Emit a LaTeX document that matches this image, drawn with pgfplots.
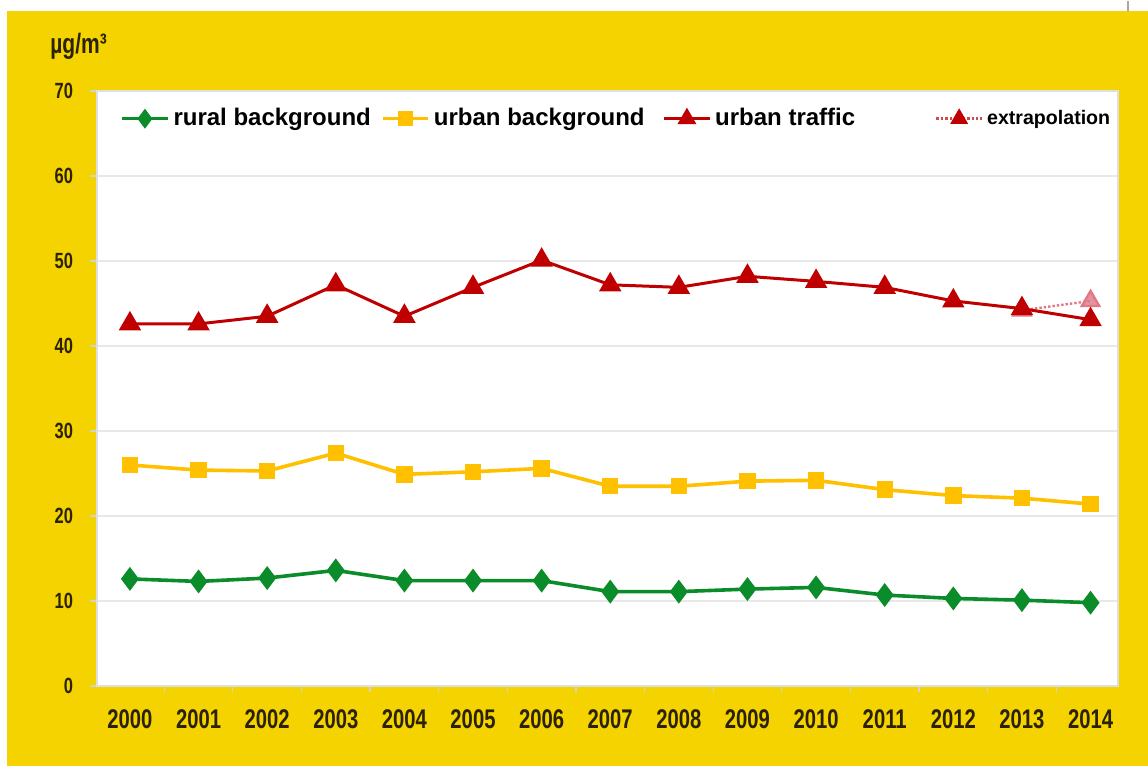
\documentclass[border=0pt]{standalone}
\usepackage{fontspec}
\setmainfont{Liberation Sans}
\newfontfamily\narrowfont[FakeStretch=0.75]{Liberation Sans}
\usepackage{pgfplots}
\pgfplotsset{compat=1.18}
\definecolor{bgyellow}{HTML}{F5D300}
\definecolor{rural}{HTML}{0A8C2A}
\definecolor{urbanbg}{HTML}{FFC000}
\definecolor{traffic}{HTML}{C00000}
\definecolor{extra}{HTML}{E07888}
\definecolor{gridgray}{HTML}{E8E8E8}
\definecolor{ticktext}{HTML}{2A2200}
\newcommand{\gap}[1]{\rule{#1}{0pt}}
\begin{document}
\begin{tikzpicture}[x=1pt,y=1pt]
\fill[white] (0,0) rectangle (574,382.5);
\fill[bgyellow] (3.5,0) rectangle (574,377.5);
\draw[gray!70, line width=1pt] (564,377.5) -- (564,382.5);
\node[anchor=west, inner sep=0pt, text=ticktext, font=\narrowfont\bfseries\fontsize{14}{15}\selectfont] at (25,360) {µg/m³};
\begin{axis}[
  at={(48.5pt,40pt)}, anchor=south west,
  scale only axis, width=510.5pt, height=297.5pt,
  xmin=-0.48, xmax=14.4, ymin=0, ymax=70,
  axis background/.style={fill=white},
  axis line style={draw=gray!25, line width=0.6pt},
  xtick={0,...,14},
  xticklabels={2000,2001,2002,2003,2004,2005,2006,2007,2008,2009,2010,2011,2012,2013,2014},
  ytick={0,10,...,70},
  minor x tick num=1,
  every major x tick/.style={draw=none},
  tick style={draw=gray!35, line width=0.6pt},
  major tick length=3.5pt, minor tick length=3pt,
  tick align=outside,
  xtick pos=bottom, ytick pos=left,
  ymajorgrids, grid style={draw=gridgray, line width=0.8pt},
  /pgf/number format/assume math mode=true,
  x tick label style={font=\narrowfont\bfseries\fontsize{13.5}{14}\selectfont, text=ticktext, yshift=-5pt},
  y tick label style={font=\narrowfont\bfseries\fontsize{11}{12}\selectfont, text=ticktext, xshift=-5pt},
  legend style={at={(0.0225,0.978)}, anchor=north west, draw=none, fill=none,
    inner sep=0pt, font=\bfseries\fontsize{12}{14}\selectfont,
    /tikz/every even column/.append style={column sep=0pt}},
  legend columns=4,
  legend image code/.code={\draw[mark repeat=2,mark phase=2] plot coordinates {(0cm,0cm) (0.4cm,0cm) (0.8cm,0cm)};},
]
% extrapolation (drawn first, under the measured series)
\addplot[forget plot, extra, line width=1.2pt, densely dotted, mark=triangle*, mark size=5pt,
  mark options={solid, fill=extra, draw=extra, fill opacity=0.8}] coordinates {(13,44.2) (14,45.3)};
% rural background
\addplot[forget plot, rural, line width=1.8pt, mark=diamond*, mark size=4.5pt, mark options={solid, fill=rural}] coordinates {
(0,12.6) (1,12.3) (2,12.7) (3,13.6) (4,12.4) (5,12.4) (6,12.4) (7,11.1) (8,11.1) (9,11.4) (10,11.6) (11,10.7) (12,10.3) (13,10.1) (14,9.8)};
% urban background
\addplot[forget plot, urbanbg, line width=1.8pt, mark=square*, mark size=3.2pt, mark options={solid, fill=urbanbg}] coordinates {
(0,26.0) (1,25.4) (2,25.3) (3,27.4) (4,24.9) (5,25.2) (6,25.6) (7,23.5) (8,23.5) (9,24.1) (10,24.2) (11,23.1) (12,22.4) (13,22.1) (14,21.4)};
% urban traffic
\addplot[forget plot, traffic, line width=1.5pt, mark=triangle*, mark size=5pt, mark options={solid, fill=traffic}] coordinates {
(0,42.6) (1,42.6) (2,43.5) (3,47.2) (4,43.5) (5,46.9) (6,50.1) (7,47.2) (8,46.9) (9,48.2) (10,47.6) (11,46.9) (12,45.3) (13,44.4) (14,43.1)};
\addlegendimage{rural, line width=1.8pt, mark=diamond*, mark size=3.5pt, mark options={solid, fill=rural}}
\addlegendentry{rural background\gap{3pt}}
\addlegendimage{urbanbg, line width=1.8pt, mark=square*, mark size=2.8pt, mark options={solid, fill=urbanbg}}
\addlegendentry{urban background\gap{7pt}}
\addlegendimage{traffic, line width=1.5pt, mark=triangle*, mark size=4pt, mark options={solid, fill=traffic}}
\addlegendentry{urban traffic\gap{38pt}}
\addlegendimage{traffic!70, line width=1.2pt, densely dotted, mark=triangle*, mark size=4pt, mark options={solid, fill=traffic, draw=traffic}}
\addlegendentry{\fontsize{9.8}{10}\selectfont extrapolation}
\end{axis}
\end{tikzpicture}
\end{document}
